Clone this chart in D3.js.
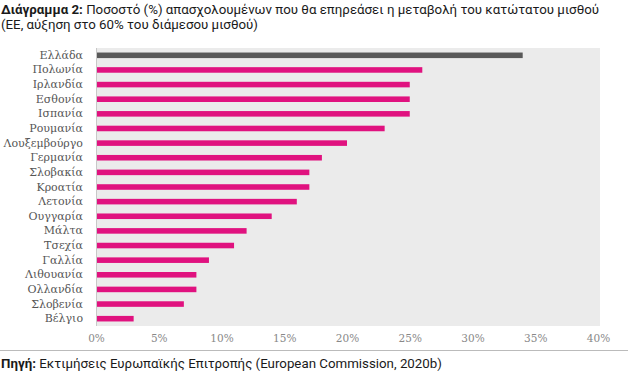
<!DOCTYPE html>
<html><head><meta charset="utf-8">
<script src="https://cdn.jsdelivr.net/npm/d3@7"></script>
<style>body{margin:0;background:#fff}svg{display:block}</style>
</head><body>
<script>
const countries = ["Ελλάδα","Πολωνία","Ιρλανδία","Εσθονία","Ισπανία","Ρουμανία","Λουξεμβούργο","Γερμανία","Σλοβακία","Κροατία","Λετονία","Ουγγαρία","Μάλτα","Τσεχία","Γαλλία","Λιθουανία","Ολλανδία","Σλοβενία","Βέλγιο"];
const values = [34,26,25,25,25,23,20,18,17,17,16,14,12,11,9,8,8,7,3];
const highlight = ["Ελλάδα"];
const xTicks = [0,5,10,15,20,25,30,35,40];

const W=644,H=374;
const svg=d3.select("body").append("svg").attr("width",W).attr("height",H);
const m={l:96,r:598,t:48,b:326};
const x=d3.scaleLinear().domain([0,40]).range([m.l,m.r]);
const y=d3.scaleBand().domain(countries).range([m.t,m.b]).paddingInner(0.62).paddingOuter(0.31);
const fs=13.3;

// title
const t=svg.append("text").attr("x",1).attr("y",14).attr("font-family","Roboto, sans-serif").attr("font-size",fs).attr("fill","#1a1a1a");
t.append("tspan").attr("font-weight","bold").text("Διάγραμμα 2:");
t.append("tspan").text(" Ποσοστό (%) απασχολουμένων που θα επηρεάσει η μεταβολή του κατώτατου μισθού");
svg.append("text").attr("x",1).attr("y",29).attr("font-family","Roboto, sans-serif").attr("font-size",fs).attr("fill","#1a1a1a")
  .text("(ΕΕ, αύξηση στο 60% του διάμεσου μισθού)");

svg.append("rect").attr("x",m.l).attr("y",m.t).attr("width",m.r+2-m.l).attr("height",m.b-m.t).attr("fill","#ebebeb");
svg.append("line").attr("x1",m.l+0.5).attr("x2",m.l+0.5).attr("y1",m.t).attr("y2",m.b).attr("stroke","#c8c8c8");

svg.selectAll("rect.bar").data(countries).join("rect").attr("class","bar")
  .attr("x",x(0)+1).attr("y",d=>y(d)).attr("height",y.bandwidth())
  .attr("width",(d,i)=>x(values[i])-x(0)-1)
  .attr("fill",d=>highlight.includes(d)?"#595959":"#e0127f");

const ya=svg.append("g").attr("transform",`translate(${m.l-13},0)`).call(d3.axisLeft(y).tickSize(0).tickPadding(0));
ya.select(".domain").remove();
ya.selectAll("text").attr("font-family","'DejaVu Serif', serif").attr("font-size",11).attr("fill","#555");

const xa=svg.append("g").attr("transform",`translate(0,${m.b})`).call(d3.axisBottom(x).tickValues(xTicks).tickFormat(d=>d+"%").tickSize(0).tickPadding(9));
xa.select(".domain").remove();
xa.selectAll("text").attr("font-family","'DejaVu Serif', serif").attr("font-size",10.5).attr("fill","#888");

svg.append("line").attr("x1",0).attr("x2",628).attr("y1",350.5).attr("y2",350.5).attr("stroke","#bbb");

const s=svg.append("text").attr("x",1).attr("y",368).attr("font-family","Roboto, sans-serif").attr("font-size",fs).attr("fill","#1a1a1a");
s.append("tspan").attr("font-weight","bold").text("Πηγή:");
s.append("tspan").text(" Εκτιμήσεις Ευρωπαϊκής Επιτροπής (European Commission, 2020b)");
</script>
</body></html>
